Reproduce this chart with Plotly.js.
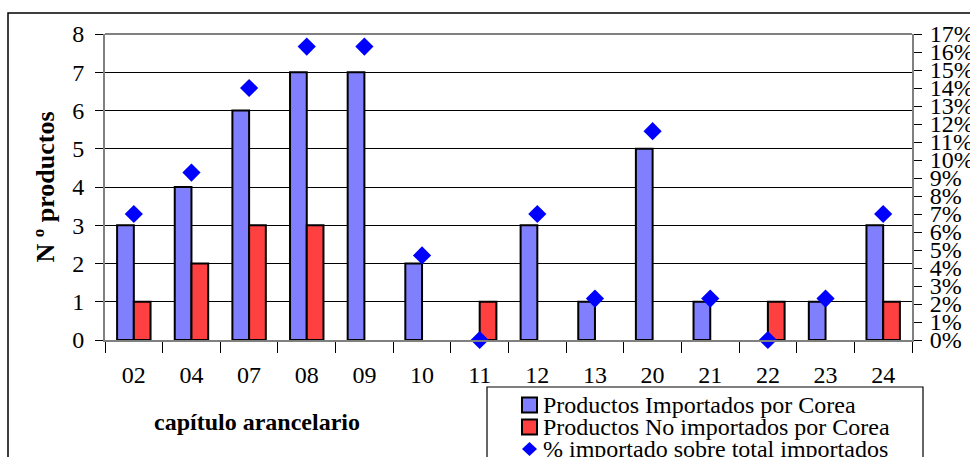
<!DOCTYPE html>
<html>
<head>
<meta charset="utf-8">
<script src="https://cdn.plot.ly/plotly-3.0.1.min.js"></script>
<style>html,body{margin:0;padding:0;background:#fff}#chart{width:970px;height:457px}</style>
</head>
<body>
<div id="chart"></div>
<script>
const categories = ['02','04','07','08','09','10','11','12','13','20','21','22','23','24'];
const importados = [3,4,6,7,7,2,0,3,1,5,1,0,1,3];
const noImportados = [1,2,3,3,0,0,1,0,0,0,0,1,0,1];
const pctImportado = [7.0,9.3,14.0,16.3,16.3,4.7,0,7.0,2.3,11.6,2.3,0,2.3,7.0];
const leftTicks = [0,1,2,3,4,5,6,7,8];
const rightTicks = [0,1,2,3,4,5,6,7,8,9,10,11,12,13,14,15,16,17];
const seriesNames = ['Productos Importados por Corea','Productos No importados por Corea','% importado sobre total importados'];
const seriesColors = ['#8080FF','#FF4040','#0000FF'];

const F = 'Liberation Serif, Times New Roman, serif';
const hideZero = arr => arr.map(v => v === 0 ? null : v);

// pixel -> paper helpers (plot area: x 105..912, y 34..340)
const L = 105, W = 807, T = 34, H = 306;
const px = x => (x - L) / W;
const py = y => (T + H - y) / H;

const traces = [
  {type:'bar', name:seriesNames[0], x:categories, y:hideZero(importados),
   marker:{color:seriesColors[0], line:{color:'#000', width:2}}, xaxis:'x', yaxis:'y'},
  {type:'bar', name:seriesNames[1], x:categories, y:hideZero(noImportados),
   marker:{color:seriesColors[1], line:{color:'#000', width:2}}, xaxis:'x', yaxis:'y'},
  {type:'scatter', mode:'markers', name:seriesNames[2], x:categories, y:pctImportado,
   marker:{symbol:'diamond', color:seriesColors[2], size:14}, xaxis:'x', yaxis:'y2', cliponaxis:false}
];

// legend (drawn manually to match the tight row spacing of the original)
const rowsY = [405, 427, 449];
const legendShapes = [
  {type:'rect', xref:'paper', yref:'paper', x0:px(487), x1:px(923), y0:py(470), y1:py(387),
   line:{color:'#000', width:1.2}, fillcolor:'rgba(0,0,0,0)'},
  {type:'rect', xref:'paper', yref:'paper', x0:px(522), x1:px(537), y0:py(rowsY[0]+7.5), y1:py(rowsY[0]-7.5),
   line:{color:'#000', width:2}, fillcolor:seriesColors[0]},
  {type:'rect', xref:'paper', yref:'paper', x0:px(522), x1:px(537), y0:py(rowsY[1]+7.5), y1:py(rowsY[1]-7.5),
   line:{color:'#000', width:2}, fillcolor:seriesColors[1]},
  {type:'path', xref:'paper', yref:'paper',
   path:`M ${px(522)} ${py(rowsY[2])} L ${px(529.5)} ${py(rowsY[2]-7)} L ${px(537)} ${py(rowsY[2])} L ${px(529.5)} ${py(rowsY[2]+7)} Z`,
   line:{width:0}, fillcolor:seriesColors[2]}
];
const legendTexts = seriesNames.map((n, i) => ({
  text:n, xref:'paper', yref:'paper', x:px(541), y:py(rowsY[i]), xanchor:'left', yanchor:'middle',
  showarrow:false, font:{family:F, size:24, color:'#000'}
}));

const layout = {
  width:970, height:457,
  margin:{l:L, r:970-L-W, t:T, b:457-T-H, autoexpand:false},
  paper_bgcolor:'#fff', plot_bgcolor:'#fff',
  font:{family:F, color:'#000', size:24},
  barmode:'group', bargap:0.42, bargroupgap:0,
  showlegend:false,
  xaxis:{type:'category', range:[-0.5, categories.length-0.5], tickson:'boundaries', ticks:'outside', ticklen:11, tickcolor:'#000',
         showline:true, linecolor:'#808080', linewidth:2, showgrid:false,
         tickfont:{family:F, size:24}, ticklabelstandoff:12},
  yaxis:{range:[0,8], tickvals:leftTicks, ticks:'outside', ticklen:8, tickcolor:'#000',
         showline:true, linecolor:'#808080', linewidth:2, mirror:false,
         showgrid:true, gridcolor:'#000', gridwidth:1, zeroline:false,
         tickfont:{family:F, size:24}, ticklabelstandoff:6,
         title:{text:'N º productos', font:{family:F, size:26, weight:'bold'}, standoff:10}},
  yaxis2:{range:[0,17], tickvals:rightTicks, ticktext:rightTicks.map(v=>v+'%'),
          overlaying:'y', side:'right', ticks:'outside', ticklen:8, tickcolor:'#000',
          showline:true, linecolor:'#808080', linewidth:2, showgrid:false, zeroline:false,
          tickfont:{family:F, size:24}, ticklabelstandoff:3},
  yaxis3:{range:[0,8], tickvals:leftTicks, overlaying:'y', side:'left', ticks:'inside', ticklen:8,
          tickcolor:'#000', showticklabels:false, showline:false, showgrid:false, zeroline:false},
  yaxis4:{range:[0,17], tickvals:rightTicks, overlaying:'y', side:'right', ticks:'inside', ticklen:8,
          tickcolor:'#000', showticklabels:false, showline:false, showgrid:false, zeroline:false},
  shapes:[
    {type:'line', xref:'paper', yref:'paper', x0:0, x1:1, y0:1, y1:1, line:{color:'#808080', width:2}},
    {type:'rect', xref:'paper', yref:'paper', x0:px(8), x1:px(975), y0:py(462), y1:py(13),
     line:{color:'#000', width:1.5}, fillcolor:'rgba(0,0,0,0)'},
    ...legendShapes
  ],
  annotations:[
    {text:'<b>capítulo arancelario</b>', xref:'paper', yref:'paper', x:px(257), y:py(422),
     xanchor:'center', yanchor:'middle', showarrow:false, font:{family:F, size:24}},
    ...legendTexts
  ]
};

Plotly.newPlot('chart', traces, layout, {displayModeBar:false, staticPlot:true});
</script>
</body>
</html>
